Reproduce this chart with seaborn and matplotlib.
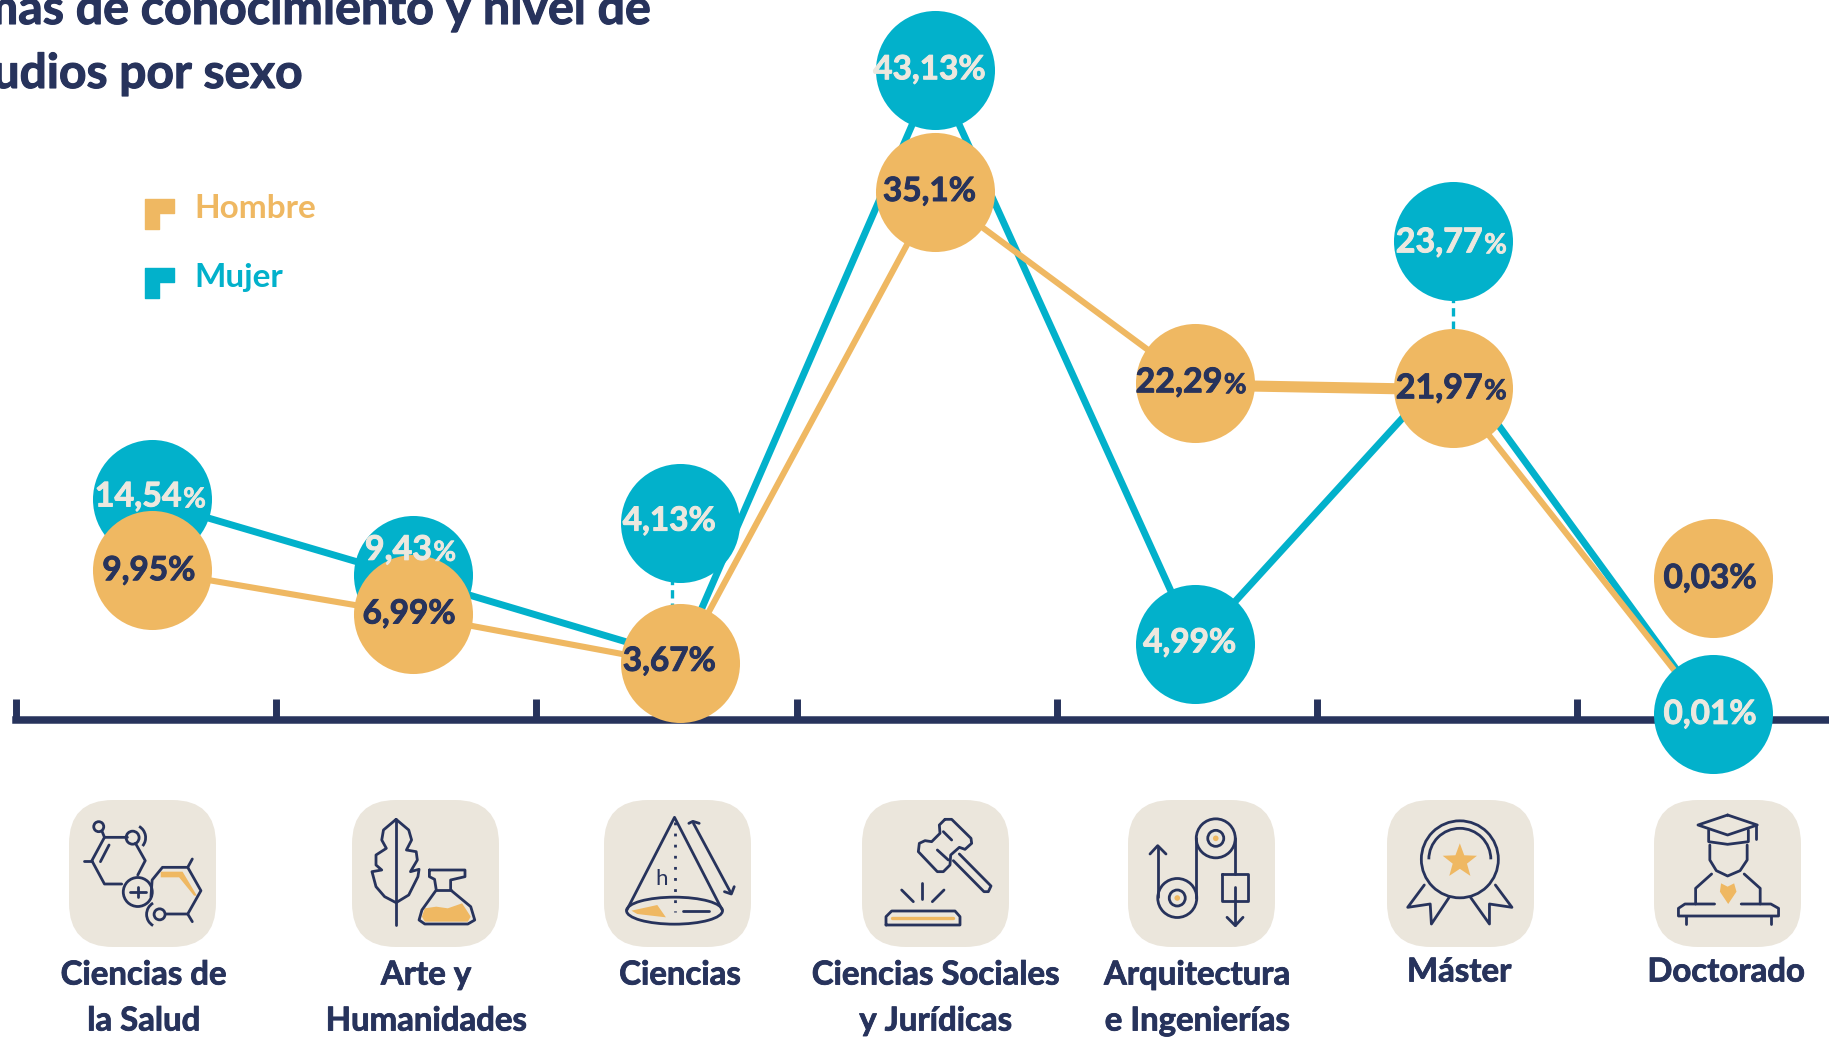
"""
Ramas de conocimiento y nivel de estudios por sexo.
Two crossing lines with big round value labels and an icon tile for each category.
"""

import numpy as np
import pandas as pd
import matplotlib.pyplot as plt
import matplotlib.patheffects as pe
import seaborn as sns
from matplotlib.patches import Circle, Ellipse, FancyBboxPatch, Polygon, Arc

# Data
categorias = ["Ciencias de la Salud", "Arte y Humanidades", "Ciencias",
              "Ciencias Sociales y Jurídicas", "Arquitectura e Ingenierías",
              "Máster", "Doctorado"]
hombre = [9.95, 6.99, 3.67, 35.1, 22.29, 21.97, 0.03]
mujer = [14.54, 9.43, 4.13, 43.13, 4.99, 23.77, 0.01]
hombre_txt = ["9,95", "6,99", "3,67", "35,1", "22,29", "21,97", "0,03"]
mujer_txt = ["14,54", "9,43", "4,13", "43,13", "4,99", "23,77", "0,01"]

# Category positions, the picture is not perfectly regular
x_pos = [0, 1.003, 2.03, 3.01, 4.01, 5, 6]

# Where a bubble sits, some were moved away from their own point
hombre_burbuja = [9.95, 7.07, 3.82, 35.1, 22.44, 22.12, 9.43]
mujer_burbuja = [14.69, 9.66, 13.1, 43.28, 5.07, 31.9, 0.39]

# Label height above the bubble centre
hombre_label_dy = [0.15, 0.15, 0.25, 0.23, 0.23, 0.15, 0.15]
mujer_label_dy = [0.38, 1.86, 0.3, 0.15, 0.23, 0.08, 0.15]

# Labels with the smaller percent sign
hombre_pct_small = [False, False, False, False, True, True, False]
mujer_pct_small = [True, True, False, False, False, True, False]

# Text under the tiles
etiquetas_x = [143.5, 426, 680, 935.5, 1197, 1459, 1726]
etiquetas_y = [975, 975, 975, 975, 975, 972, 972]
etiquetas = [["Ciencias de", "la Salud"], ["Arte y", "Humanidades"], ["Ciencias"],
             ["Ciencias Sociales", "y Jurídicas"], ["Arquitectura", "e Ingenierías"],
             ["Máster"], ["Doctorado"]]
tiles_x = [69, 352, 604, 862, 1128, 1387, 1654]

NAVY = "#27335C"
TEAL = "#02B1CB"
ORANGE = "#EFB862"
BEIGE = "#EBE6DC"
TEXT_LIGHT = "#ECE8DF"

W, H = 1829, 1037
PX_X = 260.2   # pixels per category
PX_Y = 15.03   # pixels per percent point
X0, Y0 = 152, 720

sns.set_theme(style="white")
plt.rcParams["font.family"] = ["Lato", "DejaVu Sans"]

fig = plt.figure(figsize=(W / 100, H / 100), dpi=100)
ax = fig.add_axes([0, 0, 1, 1])
ax.patch.set_alpha(0)
ax.set_xlim(-X0 / PX_X, (W - X0) / PX_X)
ax.set_ylim(-(H - Y0) / PX_Y, Y0 / PX_Y)

df = pd.DataFrame({"x": x_pos, "hombre": hombre, "mujer": mujer,
                   "hombre_b": hombre_burbuja, "mujer_b": mujer_burbuja})

# Dashed connectors between moved bubbles and their points
ax.plot([2, 2], [mujer_burbuja[2], hombre[2]], color=TEAL, lw=2.4, ls=(0, (2.5, 1.5)), zorder=3)
ax.plot([5, 5], [mujer_burbuja[5], hombre[5]], color=TEAL, lw=2.4, ls=(0, (2.5, 1.5)), zorder=3)

# Lines
sns.lineplot(data=df, x="x", y="mujer", color=TEAL, lw=5.0, sort=False, ax=ax, zorder=4)
sns.lineplot(data=df, x="x", y="hombre", color=ORANGE, lw=4.4, sort=False, ax=ax, zorder=5)
# the flat stretch is drawn thicker in the original
sns.lineplot(data=df.iloc[4:6], x="x", y="hombre", color=ORANGE, lw=8, sort=False, ax=ax, zorder=5)

# Bubbles
sns.scatterplot(data=df, x="x", y="mujer_b", color=TEAL, s=7344, linewidth=0, ax=ax, zorder=6, clip_on=False)
sns.scatterplot(data=df, x="x", y="hombre_b", color=ORANGE, s=7344, linewidth=0, ax=ax, zorder=7, clip_on=False)


def heavy(color, width=0.7):
    # Lato Bold is a bit lighter than the original face
    return [pe.withStroke(linewidth=width, foreground=color)]


def bubble_label(x, y, txt, color, small, zorder):
    """Number + percent sign, the percent sign is smaller on some labels."""
    if small:
        left = 0.17 if len(txt) == 4 else 0.208
        t = ax.text(x - 0.012 - left, y, txt, color=color, fontsize=24.5, fontweight="bold",
                    ha="left", va="center_baseline", zorder=zorder, path_effects=heavy(color))
        ax.annotate("%", xy=(1, 0), xycoords=t, xytext=(1, 0), textcoords="offset points",
                    color=color, fontsize=20, fontweight="bold", ha="left", va="bottom",
                    zorder=zorder, annotation_clip=False, path_effects=heavy(color, 0.5))
    else:
        ax.text(x - 0.012, y, txt + "%", color=color, fontsize=24, fontweight="bold",
                ha="center", va="center_baseline", zorder=zorder, path_effects=heavy(color))


for i in range(len(categorias)):
    bubble_label(i, mujer_burbuja[i] + mujer_label_dy[i], mujer_txt[i], TEXT_LIGHT, mujer_pct_small[i], 8)
    bubble_label(i, hombre_burbuja[i] + hombre_label_dy[i], hombre_txt[i], NAVY, hombre_pct_small[i], 9)

# Axis: baseline with ticks pointing up
for s in ["top", "left", "right"]:
    ax.spines[s].set_visible(False)
ax.spines["bottom"].set_position(("data", 0))
ax.spines["bottom"].set_color(NAVY)
ax.spines["bottom"].set_linewidth(5.4)
ax.spines["bottom"].set_bounds((16 - X0) / PX_X, (W - X0) / PX_X)
ax.set_xticks(np.arange(len(categorias)) - 0.5227)
ax.set_xticklabels([])
ax.set_yticks([])
ax.tick_params(axis="x", direction="in", length=15, width=5, color=NAVY, bottom=True)
ax.set_xlabel("")
ax.set_ylabel("")

# Overlay in pixel coordinates for the tiles, icons, legend and texts
ov = fig.add_axes([0, 0, 1, 1])
ov.set_xlim(0, W)
ov.set_ylim(H, 0)
ov.axis("off")
ov.patch.set_alpha(0)

LW = 2.0


def z1(pts):
    # coordinates measured on the left crop of the icon row
    return [(x / 1.742, 780 + y / 3) for x, y in pts]


def z2(pts):
    # same for the right crop
    return [(900 + x / 1.688, 780 + y / 3) for x, y in pts]


def z3(pts):
    # gavel crop
    return [(860 + x / 3, 800 + y / 3) for x, y in pts]


def line(pts, lw=LW, color=NAVY, closed=False):
    xs, ys = zip(*(list(pts) + [pts[0]] if closed else pts))
    ov.plot(xs, ys, color=color, lw=lw, solid_capstyle="round", solid_joinstyle="round")


def fill(pts, color=ORANGE):
    ov.add_patch(Polygon(pts, closed=True, fc=color, ec="none"))


def circ(center, r, fc="none", lw=LW):
    ov.add_patch(Circle(center, r, fc=fc, ec=NAVY if fc == "none" else "none", lw=lw))


for tx in tiles_x:
    ov.add_patch(FancyBboxPatch((tx + 44, 844), 147 - 88, 147 - 88,
                                boxstyle="round,pad=44,rounding_size=44", fc=BEIGE, ec="none"))

# Icon 1: molecule
fill(z1([(280, 275), (318, 275), (343, 347), (338, 347), (312, 292), (280, 292)]))
line(z1([(212, 312), (182, 312), (160, 242), (182, 172), (222, 172)]))
line(z1([(236, 190), (253, 242), (240, 285)]))
line(z1([(190, 195), (175, 245)]))
line(z1([(147, 242), (160, 242)]))
line(z1([(178, 155), (182, 172)]))
circ(z1([(172, 140)])[0], 5)
circ(z1([(231, 173)])[0], 6.5)
ov.add_patch(Arc(z1([(231, 173)])[0], 26, 26, theta1=-60, theta2=40, ec=NAVY, lw=LW))
circ(z1([(240, 336)])[0], 14.5)
line(z1([(226, 336), (254, 336)]))
line(z1([(240, 320), (240, 352)]))
line(z1([(263, 350), (265, 300), (283, 262), (327, 262), (350, 332), (327, 402), (290, 402)]))
line(z1([(327, 262), (335, 237)]))
line(z1([(327, 402), (335, 425)]))
circ(z1([(278, 403)])[0], 5.5)
ov.add_patch(Arc(z1([(278, 403)])[0], 26, 26, theta1=120, theta2=240, ec=NAVY, lw=LW))

# Icon 2: leaf and flask
line(z1([(690, 120), (690, 435)]))
line(z1([(690, 118), (668, 150), (665, 180), (673, 205), (655, 225), (655, 255), (665, 270),
         (648, 275), (655, 320), (670, 350), (690, 368), (712, 345), (728, 290), (730, 268),
         (715, 275), (727, 240), (725, 215), (708, 210), (717, 180), (712, 150), (690, 118)]))
fill(z1([(740, 385), (760, 380), (780, 385), (805, 370), (820, 410), (815, 425), (740, 425), (735, 410)]))
line(z1([(748, 270), (810, 270), (810, 290), (785, 300), (785, 330), (820, 380), (827, 420),
         (815, 432), (740, 432), (730, 420), (735, 390), (760, 330), (757, 298), (748, 290), (748, 270)]))
line(z1([(760, 330), (785, 330)]))

# Icon 3: cone
fill(z1([(1100, 392), (1145, 375), (1160, 412), (1110, 402)]))
line(z1([(1092, 390), (1175, 112), (1258, 390)]))
ov.add_patch(Ellipse(z1([(1175, 392)])[0], 96, 27, fc="none", ec=NAVY, lw=LW))
ov.plot(*zip(*z1([(1175, 125), (1175, 395)])), color=NAVY, lw=2, ls=(0, (1, 3)))
line(z1([(1190, 393), (1235, 393)]))
line(z1([(1208, 130), (1272, 335)]))
line(z1([(1200, 130), (1207, 124), (1218, 130)]))
line(z1([(1262, 335), (1274, 342), (1279, 320)]))
cx, cy = z1([(1153, 298)])[0]
ov.text(cx, cy, "h", color=NAVY, fontsize=16, ha="center", va="center")

# Icon 4: gavel
line(z3([(255, 58), (275, 58), (333, 115), (335, 130), (315, 148), (298, 142), (272, 165), (270, 195),
         (250, 215), (232, 215), (175, 155), (178, 130), (195, 122), (215, 125), (240, 100), (238, 75)]),
     closed=True)
line(z3([(250, 95), (275, 120)]))
line(z3([(232, 150), (265, 180)]))
line(z3([(298, 162), (393, 258), (385, 275), (372, 275), (280, 182)]))
line(z3([(125, 270), (160, 305)]))
line(z3([(187, 250), (187, 298)]))
line(z3([(252, 270), (217, 305)]))
line(z3([(78, 375), (78, 350), (95, 333), (285, 333), (300, 350), (300, 375)]), closed=True)
line(z3([(97, 354), (280, 354)]), color=ORANGE, lw=2.4)

# Icon 5: pulleys
line(z2([(435, 200), (435, 350)]))
line(z2([(422, 222), (435, 197), (449, 222)]))
for p in [(468, 354), (533, 175)]:
    c = z2([p])[0]
    circ(c, 19.5)
    circ(c, 8)
    circ(c, 2.8, fc=ORANGE)
line(z2([(500, 175), (500, 354)]))
line(z2([(566, 175), (566, 282)]))
line(z2([(544, 282), (588, 282), (588, 362), (544, 362)]), closed=True)
line(z2([(566, 320), (566, 435)]))
line(z2([(552, 412), (566, 437), (579, 412)]))

# Icon 6: medal
mc = z2([(945, 238)])[0]
circ(mc, 38.5)
ov.add_patch(Arc(mc, 62, 62, theta1=180, theta2=360, ec=NAVY, lw=LW))
ang = np.deg2rad(-90 + 36 * np.arange(10))
rad = np.where(np.arange(10) % 2 == 0, 18, 7.5)
fill(np.column_stack([mc[0] + rad * np.cos(ang), mc[1] + 2 + rad * np.sin(ang)]))
line(z2([(885, 315), (857, 382), (895, 372), (897, 432), (927, 352)]))
line(z2([(1005, 315), (1033, 382), (995, 372), (995, 432), (963, 352)]))

# Icon 7: graduate
fill(z2([(1386, 310), (1397, 320), (1408, 310), (1412, 335), (1398, 372), (1384, 335)]))
line(z2([(1397, 105), (1447, 135), (1397, 165), (1347, 135)]), closed=True)
line(z2([(1365, 150), (1365, 185), (1397, 193), (1432, 185), (1432, 150)]))
line(z2([(1445, 135), (1445, 178)]))
line(z2([(1367, 195), (1367, 240), (1378, 272), (1397, 288), (1418, 272), (1430, 240), (1430, 195)]))
line(z2([(1370, 282), (1343, 325), (1343, 372)]))
line(z2([(1425, 282), (1452, 325), (1452, 372)]))
line(z2([(1375, 372), (1325, 372), (1314, 385), (1314, 408), (1483, 408), (1483, 385), (1470, 372), (1420, 372)]))
line(z2([(1326, 408), (1326, 432)]))
line(z2([(1470, 408), (1470, 432)]))

# Category labels
for x, y, lines in zip(etiquetas_x, etiquetas_y, etiquetas):
    for k, txt in enumerate(lines):
        ov.text(x, y + 46 * k, txt, color=NAVY, fontsize=23.7, fontweight="bold",
                ha="center", va="center", path_effects=heavy(NAVY, 0.6))

# Legend
for y, name, col in [(199, "Hombre", ORANGE), (268, "Mujer", TEAL)]:
    shape = [(145, y), (174, y), (174, y + 14), (159, y + 14), (159, y + 30), (145, y + 30)]
    ov.add_patch(Polygon(shape, closed=True, fc=col, ec=col, lw=1, joinstyle="round"))
    ov.text(194, y + 9, name, color=col, fontsize=24, fontweight="bold", ha="left", va="center")

# Title, cut by the picture's edges like the original
ov.text(652, 24, "Ramas de conocimiento y nivel de", color=NAVY, fontsize=34.8, fontweight="bold",
        ha="right", va="baseline", path_effects=heavy(NAVY, 0.8))
ov.text(302, 88, "estudios por sexo", color=NAVY, fontsize=34.5, fontweight="bold",
        ha="right", va="baseline", path_effects=heavy(NAVY, 0.8))

fig.savefig("out.png", dpi=100, facecolor="white")
plt.close(fig)
